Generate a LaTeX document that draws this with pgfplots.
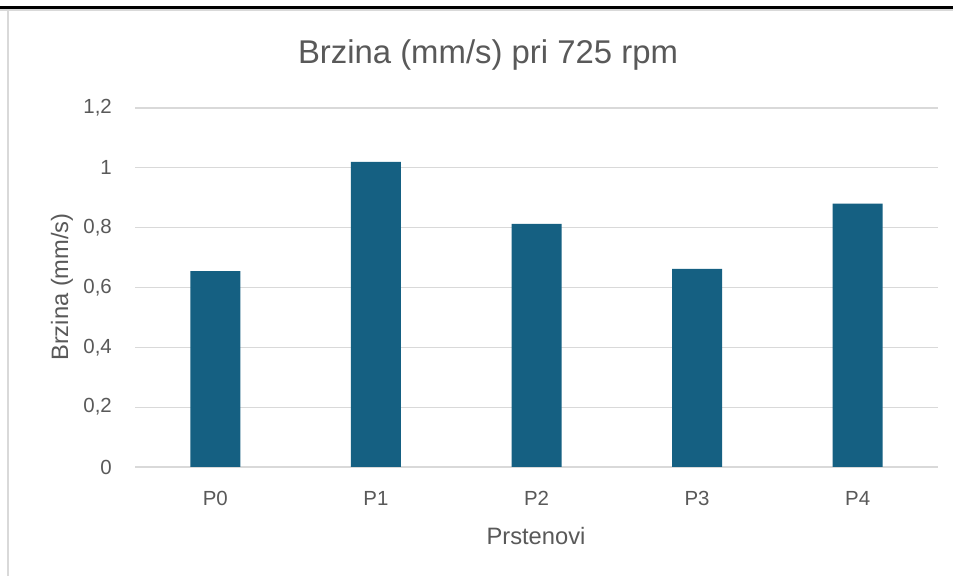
\documentclass[border=0pt]{standalone}
\usepackage{fontspec}
\setmainfont{Liberation Sans}
\usepackage{pgfplots}
\pgfplotsset{compat=1.18}

\definecolor{barblue}{HTML}{156082}
\definecolor{txtgray}{HTML}{595959}
\definecolor{gridgray}{HTML}{D9D9D9}

\newcommand\tickfont{\fontsize{20.5}{23}\selectfont}
\newcommand\labfont{\fontsize{23.8}{27}\selectfont}

\begin{document}
\begin{tikzpicture}
\useasboundingbox (0,0) rectangle (953bp,576bp);
\fill[white] (0,0) rectangle (953bp,576bp);
% frame of the screenshot
\draw[black, line width=3bp] (0,568.5bp) -- (953bp,568.5bp);
\draw[gridgray, line width=1.2bp] (0,566bp) -- (953bp,566bp);
\draw[gridgray, line width=2bp] (8bp,0) -- (8bp,566bp);

\begin{axis}[
    at={(135bp,109bp)}, anchor=south west,
    scale only axis, width=803bp, height=359bp,
    ybar, bar width=50bp,
    xmin=-0.5, xmax=4.5,
    ymin=0, ymax=1.2,
    xtick={0,1,2,3,4},
    xticklabels={P0,P1,P2,P3,P4},
    ytick={0,0.2,0.4,0.6,0.8,1,1.2},
    axis line style={draw=none},
    major tick length=0pt,
    ymajorgrids,
    grid style={gridgray, line width=1.3bp},
    /pgf/number format/.cd, use comma, assume math mode=true,
    /pgfplots/.cd,
    every tick label/.append style={font=\tickfont, text=txtgray, inner sep=0pt},
    yticklabel style={anchor=east, xshift=-23bp},
    xticklabel style={anchor=north, yshift=-24bp},
    clip=false,
]
\addplot[fill=barblue, draw=none] coordinates {(0,0.655) (1,1.020) (2,0.813) (3,0.662) (4,0.880)};
\end{axis}

\node[anchor=base, text=txtgray, font=\fontsize{33}{37}\selectfont] at (488bp,512bp) {Brzina (mm/s) pri 725 rpm};
\node[anchor=base, text=txtgray, font=\labfont] at (536bp,32bp) {Prstenovi};
\node[rotate=90, anchor=center, text=txtgray, font=\labfont] at (62bp,289bp) {Brzina (mm/s)};
\end{tikzpicture}
\end{document}
